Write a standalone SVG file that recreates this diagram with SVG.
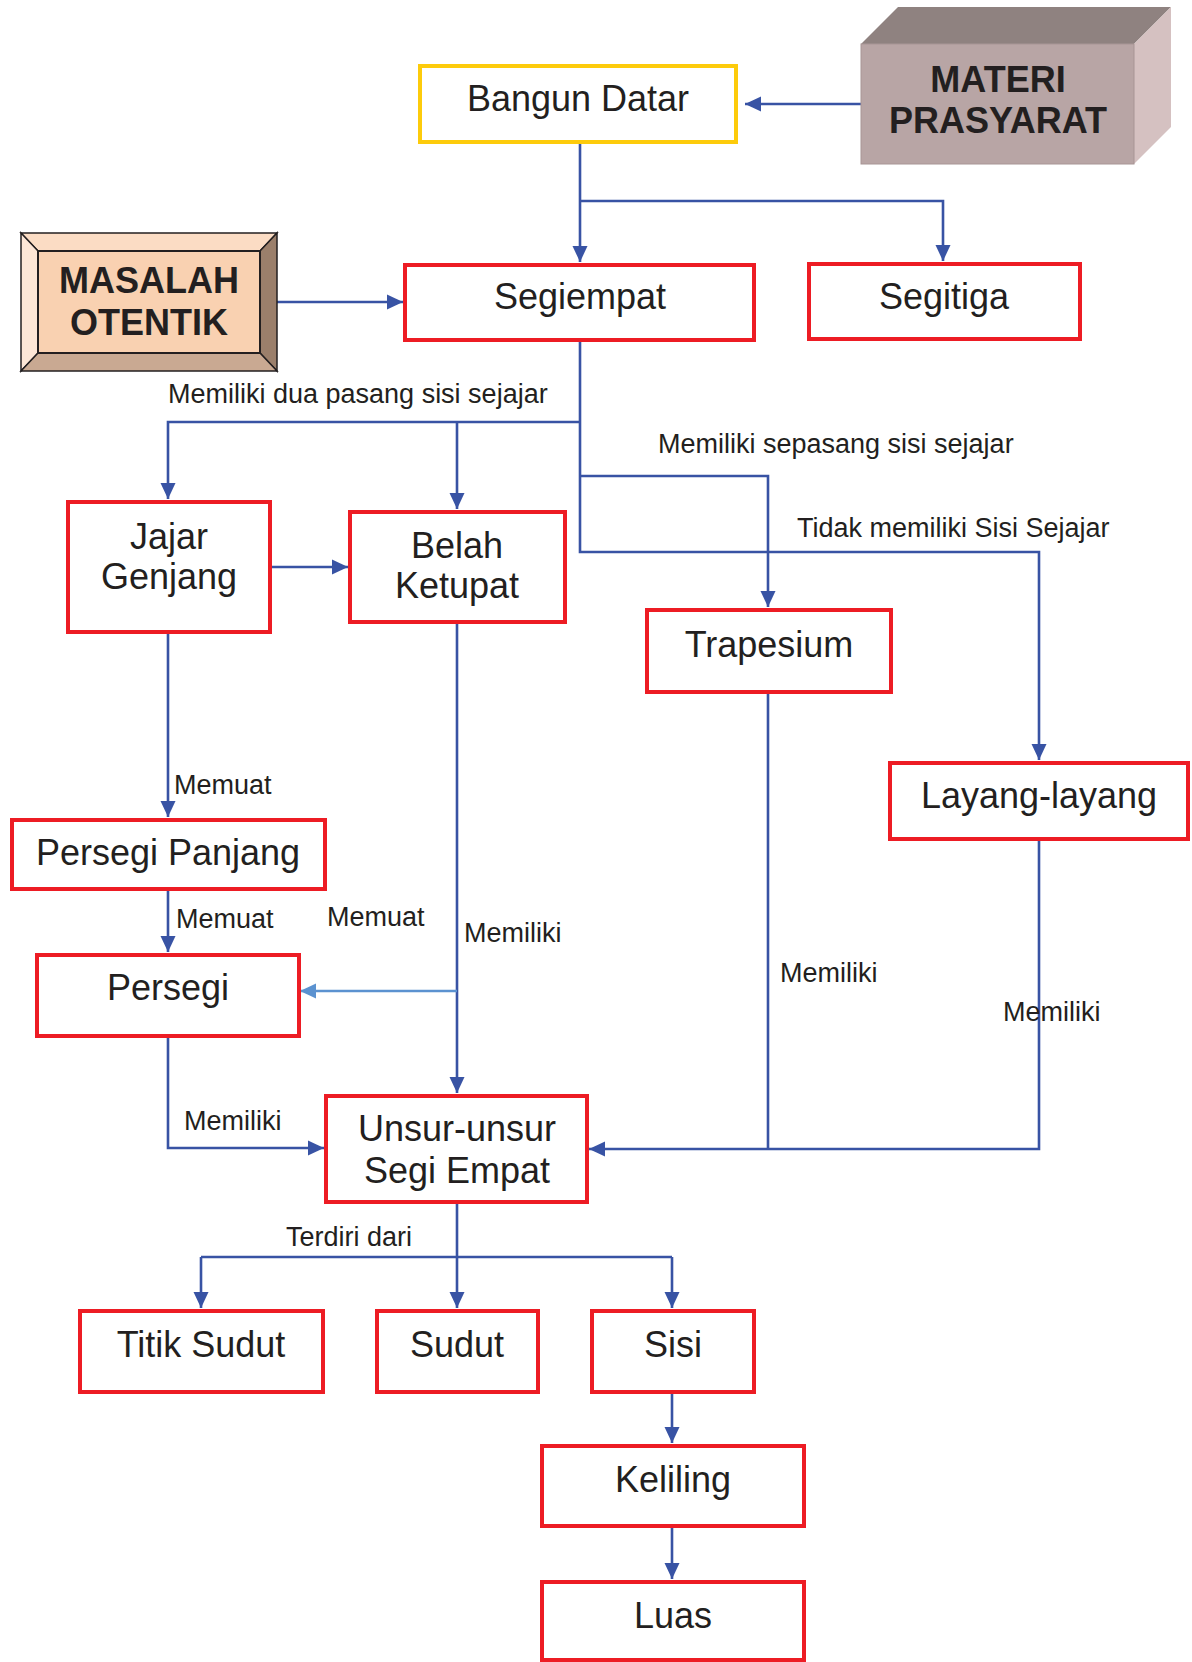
<svg xmlns="http://www.w3.org/2000/svg" width="1192" height="1662" viewBox="0 0 1192 1662">
<style>
.box{fill:#fff;stroke:#ed1c24;stroke-width:4}
.t{font-family:"Liberation Sans",Arial,sans-serif;font-size:36px;fill:#231f20;text-anchor:middle}
.b{font-family:"Liberation Sans",Arial,sans-serif;font-size:36px;font-weight:bold;fill:#231f20;text-anchor:middle}
.l{font-family:"Liberation Sans",Arial,sans-serif;font-size:27px;fill:#231f20}
.c{fill:none;stroke:#3853a4;stroke-width:2.6}
.cl{fill:none;stroke:#5b92d0;stroke-width:2.6}
</style>
<defs>
<marker id="a" markerUnits="userSpaceOnUse" markerWidth="18" markerHeight="16" refX="16" refY="8" orient="auto"><path d="M0,0.5 L16,8 L0,15.5 z" fill="#3853a4"/></marker>
<marker id="al" markerUnits="userSpaceOnUse" markerWidth="18" markerHeight="16" refX="16" refY="8" orient="auto"><path d="M0,0.5 L16,8 L0,15.5 z" fill="#5b92d0"/></marker>
</defs>
<rect width="1192" height="1662" fill="#fff"/>

<g id="connectors">
<path class="c" d="M861,104 H745" marker-end="url(#a)"/>
<path class="c" d="M580,142 V262" marker-end="url(#a)"/>
<path class="c" d="M580,201 H943 V261" marker-end="url(#a)"/>
<path class="c" d="M277,302 H403" marker-end="url(#a)"/>
<path class="c" d="M580,340 V552 H1039 V760" marker-end="url(#a)"/>
<path class="c" d="M580,422 H168 V499" marker-end="url(#a)"/>
<path class="c" d="M457,423 V509" marker-end="url(#a)"/>
<path class="c" d="M580,476 H768 V607" marker-end="url(#a)"/>
<path class="c" d="M270,567 H348" marker-end="url(#a)"/>
<path class="c" d="M168,632 V817" marker-end="url(#a)"/>
<path class="c" d="M168,889 V952" marker-end="url(#a)"/>
<path class="c" d="M457,622 V1093" marker-end="url(#a)"/>
<path class="cl" d="M457,991 H300" marker-end="url(#al)"/>
<path class="c" d="M168,1036 V1148 H324" marker-end="url(#a)"/>
<path class="c" d="M768,692 V1149"/>
<path class="c" d="M1039,839 V1149 H589" marker-end="url(#a)"/>
<path class="c" d="M457,1202 V1257"/>
<path class="c" d="M201,1257 H672"/>
<path class="c" d="M201,1257 V1308" marker-end="url(#a)"/>
<path class="c" d="M457,1257 V1308" marker-end="url(#a)"/>
<path class="c" d="M672,1257 V1308" marker-end="url(#a)"/>
<path class="c" d="M672,1392 V1443" marker-end="url(#a)"/>
<path class="c" d="M672,1526 V1579" marker-end="url(#a)"/>
<text class="l" x="168" y="403">Memiliki dua pasang sisi sejajar</text>
<text class="l" x="658" y="453">Memiliki sepasang sisi sejajar</text>
<text class="l" x="797" y="537">Tidak memiliki Sisi Sejajar</text>
<text class="l" x="174" y="794">Memuat</text>
<text class="l" x="176" y="928">Memuat</text>
<text class="l" x="327" y="926">Memuat</text>
<text class="l" x="464" y="942">Memiliki</text>
<text class="l" x="780" y="982">Memiliki</text>
<text class="l" x="1003" y="1021">Memiliki</text>
<text class="l" x="184" y="1130">Memiliki</text>
<text class="l" x="286" y="1246">Terdiri dari</text>
</g>

<g id="materi-prasyarat">
<polygon points="861,44 898,7 1171,7 1134,44" fill="#8f8280"/>
<polygon points="1134,44 1171,7 1171,127 1134,164" fill="#d5c1c1"/>
<rect x="861" y="44" width="273" height="120" fill="#b8a5a5" stroke="#a89595" stroke-width="1"/>
<text class="b" x="998" y="92">MATERI</text>
<text class="b" x="998" y="133">PRASYARAT</text>
</g>

<g id="bangun-datar">
<rect x="420" y="66" width="316" height="76" fill="#fff" stroke="#fdcb0b" stroke-width="4"/>
<text class="t" x="578" y="111">Bangun Datar</text>
</g>

<g id="masalah-otentik">
<g stroke="#231f20" stroke-width="1.5" stroke-linejoin="miter">
<polygon points="21,233 277,233 260,251 38,251" fill="#fbdcc4"/>
<polygon points="21,233 38,251 38,353 21,371" fill="#fde6d6"/>
<polygon points="277,233 277,371 260,353 260,251" fill="#9b7f6b"/>
<polygon points="21,371 38,353 260,353 277,371" fill="#c9a992"/>
<rect x="38" y="251" width="222" height="102" fill="#f9d1b1" stroke-width="2"/>
</g>
<text class="b" x="149" y="293">MASALAH</text>
<text class="b" x="149" y="335">OTENTIK</text>
</g>

<g id="segiempat"><rect class="box" x="405" y="265" width="349" height="75"/><text class="t" x="580" y="309">Segiempat</text></g>
<g id="segitiga"><rect class="box" x="809" y="264" width="271" height="75"/><text class="t" x="944" y="309">Segitiga</text></g>
<g id="jajar-genjang"><rect class="box" x="68" y="502" width="202" height="130"/><text class="t" x="169" y="549">Jajar</text><text class="t" x="169" y="589">Genjang</text></g>
<g id="belah-ketupat"><rect class="box" x="350" y="512" width="215" height="110"/><text class="t" x="457" y="558">Belah</text><text class="t" x="457" y="598">Ketupat</text></g>
<g id="trapesium"><rect class="box" x="647" y="610" width="244" height="82"/><text class="t" x="769" y="657">Trapesium</text></g>
<g id="layang-layang"><rect class="box" x="890" y="763" width="298" height="76"/><text class="t" x="1039" y="808">Layang-layang</text></g>
<g id="persegi-panjang"><rect class="box" x="12" y="820" width="313" height="69"/><text class="t" x="168" y="865">Persegi Panjang</text></g>
<g id="persegi"><rect class="box" x="37" y="955" width="262" height="81"/><text class="t" x="168" y="1000">Persegi</text></g>
<g id="unsur-unsur"><rect class="box" x="326" y="1096" width="261" height="106"/><text class="t" x="457" y="1141">Unsur-unsur</text><text class="t" x="457" y="1183">Segi Empat</text></g>
<g id="titik-sudut"><rect class="box" x="80" y="1311" width="243" height="81"/><text class="t" x="201" y="1357">Titik Sudut</text></g>
<g id="sudut"><rect class="box" x="377" y="1311" width="161" height="81"/><text class="t" x="457" y="1357">Sudut</text></g>
<g id="sisi"><rect class="box" x="592" y="1311" width="162" height="81"/><text class="t" x="673" y="1357">Sisi</text></g>
<g id="keliling"><rect class="box" x="542" y="1446" width="262" height="80"/><text class="t" x="673" y="1492">Keliling</text></g>
<g id="luas"><rect class="box" x="542" y="1582" width="262" height="78"/><text class="t" x="673" y="1628">Luas</text></g>
</svg>
